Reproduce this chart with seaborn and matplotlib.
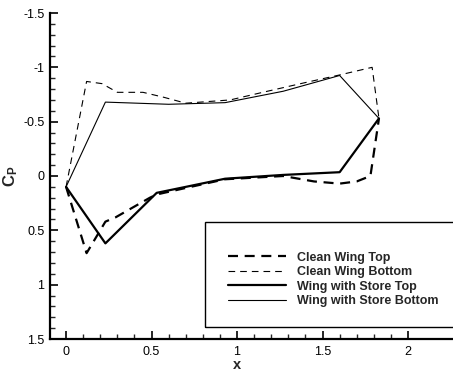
import matplotlib
matplotlib.use("Agg")
import matplotlib.pyplot as plt
from matplotlib.patches import Rectangle
import seaborn as sns
import pandas as pd

# Pressure coefficient distributions along the chord
clean_top_x = [0.0, 0.12, 0.23, 0.29, 0.49, 0.53, 0.70, 0.93, 1.27, 1.45, 1.60, 1.70, 1.78, 1.83]
clean_top_cp = [0.10, 0.71, 0.42, 0.38, 0.20, 0.17, 0.11, 0.03, 0.00, 0.05, 0.07, 0.05, 0.00, -0.53]

clean_bot_x = [0.0, 0.12, 0.21, 0.30, 0.45, 0.57, 0.70, 0.96, 1.15, 1.40, 1.60, 1.79, 1.83]
clean_bot_cp = [0.10, -0.87, -0.85, -0.77, -0.77, -0.725, -0.67, -0.70, -0.77, -0.86, -0.93, -1.00, -0.53]

store_top_x = [0.0, 0.23, 0.53, 0.70, 0.93, 1.27, 1.60, 1.83]
store_top_cp = [0.10, 0.62, 0.155, 0.10, 0.025, -0.01, -0.035, -0.53]

store_bot_x = [0.0, 0.23, 0.60, 0.93, 1.27, 1.60, 1.83]
store_bot_cp = [0.10, -0.68, -0.66, -0.675, -0.78, -0.925, -0.53]

series_names = ["Clean Wing Top", "Clean Wing Bottom", "Wing with Store Top", "Wing with Store Bottom"]

sns.set_theme(style="white")
plt.rcParams["font.family"] = ["Liberation Sans", "DejaVu Sans"]
plt.rcParams["mathtext.fontset"] = "custom"
plt.rcParams["mathtext.rm"] = "Liberation Sans"
plt.rcParams["mathtext.bf"] = "Liberation Sans:bold"

W, H = 453, 372
fig = plt.figure(figsize=(W / 100, H / 100), dpi=100)
ax = fig.add_axes([50 / W, 1 - 339 / H, 1 - 50 / W, (339 - 13) / H])

styles = [
    dict(lw=1.6, dashes=(4.5, 3.0)),
    dict(lw=0.8, dashes=(6.0, 4.5)),
    dict(lw=1.6, dashes=None),
    dict(lw=0.8, dashes=None),
]
data = [(clean_top_x, clean_top_cp), (clean_bot_x, clean_bot_cp),
        (store_top_x, store_top_cp), (store_bot_x, store_bot_cp)]

for name, (xs, cps), st in zip(series_names, data, styles):
    df = pd.DataFrame({"x": xs, "cp": cps})
    sns.lineplot(data=df, x="x", y="cp", sort=False, estimator=None, ax=ax,
                 color="black", lw=st["lw"], label=name)
    line = ax.lines[-1]
    if st["dashes"] is not None:
        line.set_dashes(st["dashes"])

ax.set_xlim(-0.094, 2.263)
ax.set_ylim(1.5, -1.5)
ax.set_xticks([0, 0.5, 1, 1.5, 2])
ax.set_xticklabels(["0", "0.5", "1", "1.5", "2"])
ax.set_yticks([-1.5, -1, -0.5, 0, 0.5, 1, 1.5])
ax.set_yticklabels(["-1.5", "-1", "-0.5", "0", "0.5", "1", "1.5"])
ax.set_xticks([i / 10 for i in range(0, 21)], minor=True)
ax.set_yticks([-1.5 + i / 10 for i in range(0, 31)], minor=True)
ax.tick_params(which="major", direction="in", length=6, width=1.2, labelsize=9,
               left=True, bottom=True, pad=4, colors="black")
ax.tick_params(axis="x", which="major", pad=5)
ax.tick_params(which="minor", direction="in", length=3.5, width=1.0, left=True, bottom=True)

for side in ["top", "right"]:
    ax.spines[side].set_visible(False)
for side in ["left", "bottom"]:
    ax.spines[side].set_linewidth(1.6)
    ax.spines[side].set_color("black")

ax.set_xlabel("x", fontsize=10.5, fontweight="bold")
ax.xaxis.set_label_coords((237 - 50) / 403, -(358 - 339) / 326)
ax.set_ylabel(r"$\mathbf{C_P}$", fontsize=12)
ax.yaxis.set_label_coords((20 - 50) / 403, 0.5)

# Legend frame and entries
fig.patches.append(Rectangle((205 / W, 1 - 327 / H), (W + 5 - 205) / W, (327 - 222) / H,
                             transform=fig.transFigure, fill=False, edgecolor="black",
                             lw=1.0, zorder=5))
leg = ax.legend(loc="upper left", bbox_to_anchor=(222 / W, 1 - 245.5 / H),
                bbox_transform=fig.transFigure, frameon=False,
                prop=dict(weight="bold", size=9), handlelength=4.6,
                handletextpad=0.9, labelspacing=0.2, borderpad=0)

fig.savefig("out.png", dpi=100)
